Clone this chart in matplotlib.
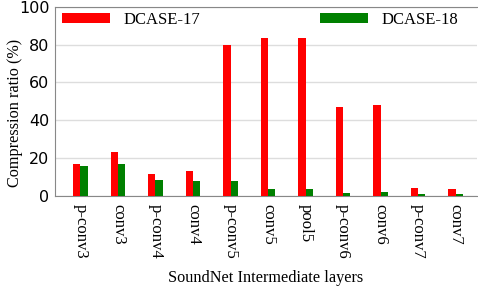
import matplotlib
matplotlib.use("Agg")
import matplotlib.pyplot as plt
import numpy as np

layers = ["p-conv3", "conv3", "p-conv4", "conv4", "p-conv5", "conv5", "pool5",
          "p-conv6", "conv6", "p-conv7", "conv7"]
dcase17 = [17.2, 23.4, 11.8, 13.4, 79.5, 83.4, 83.4, 46.8, 48.3, 4.4, 3.7]
dcase18 = [15.8, 17.2, 8.6, 7.9, 7.9, 4.0, 4.0, 1.9, 2.3, 1.2, 1.2]
yticks = [0, 20, 40, 60, 80, 100]

serif = ["Liberation Serif", "DejaVu Serif"]

fig = plt.figure(figsize=(4.78, 2.88), dpi=100)
ax = fig.add_axes([0.115, 0.319, 0.882, 0.658])

x = np.arange(len(layers))
w = 0.19
ax.bar(x - w / 2, dcase17, w, color="#ff0000", label="DCASE-17", zorder=3)
ax.bar(x + w / 2, dcase18, w, color="#008000", label="DCASE-18", zorder=3)

ax.set_ylim(0, 100)
ax.set_xlim(-0.68, 10.56)
ax.set_yticks(yticks)
ax.tick_params(axis="y", labelsize=11.5, length=0, pad=4)
ax.set_xticks(x)
ax.set_xticklabels(layers, rotation=270, fontfamily=serif, fontsize=12)
ax.tick_params(axis="x", length=0, pad=6)
ax.yaxis.grid(True, color="#dddddd", linewidth=1, zorder=0)
for s in ax.spines.values():
    s.set_color("#888888")
ax.spines["right"].set_visible(False)

ax.set_ylabel("Compression ratio (%)", fontfamily=serif, fontsize=11.7)
ax.yaxis.set_label_coords(-0.076, 0.44)
ax.set_xlabel("SoundNet Intermediate layers", fontfamily=serif, fontsize=11.7, labelpad=8)

leg = ax.legend(ncol=2, loc="upper left", bbox_to_anchor=(0.0, 1.005, 0.972, 0.0),
                mode="expand", frameon=False, handlelength=2.9, handleheight=0.55,
                handletextpad=0.8,
                prop={"family": serif, "size": 12}, borderaxespad=0.0)

fig.savefig("out.png", dpi=100)
